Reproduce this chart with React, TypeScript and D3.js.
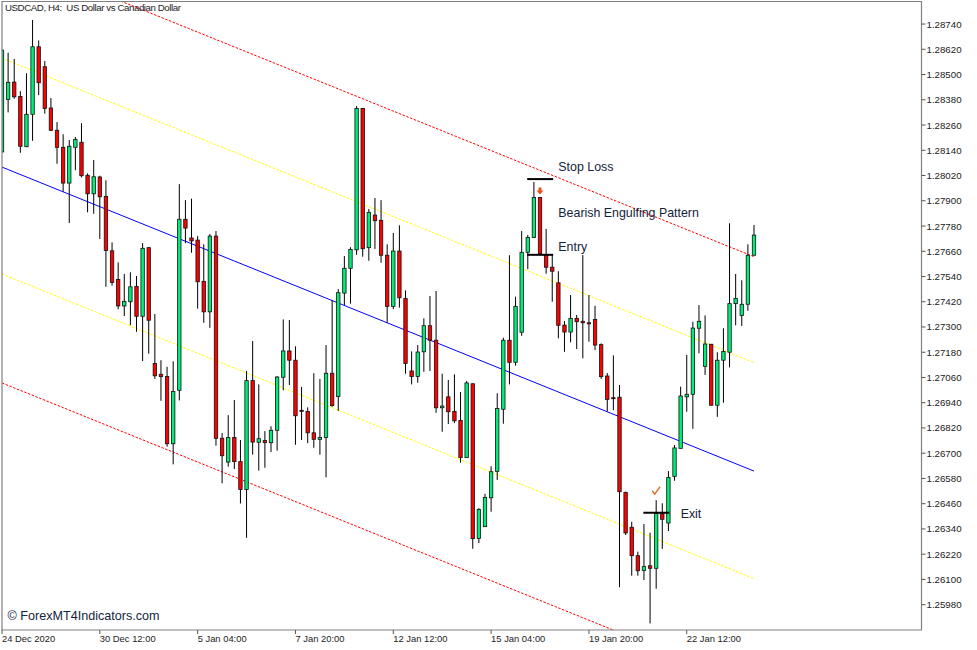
import * as React from "react";
import { scaleLinear, line as d3Line } from "d3";

// USDCAD H4
const opens = [
  1.28132, 1.28382, 1.28464, 1.28396, 1.28157, 1.28311, 1.28632, 1.28537, 1.28341, 1.28235,
  1.28154, 1.27984, 1.28154, 1.28178, 1.28021, 1.27933, 1.28013, 1.27921, 1.27662, 1.27526,
  1.274, 1.2742, 1.27493, 1.27351, 1.27677, 1.27127, 1.27075, 1.27065, 1.26745, 1.26999,
  1.27812, 1.27723, 1.27713, 1.27517, 1.27372, 1.27732, 1.26771, 1.26658, 1.26775, 1.2666,
  1.26528, 1.27045, 1.26752, 1.26761, 1.2675, 1.26809, 1.27061, 1.27186, 1.27142, 1.26904,
  1.26899, 1.26797, 1.26766, 1.26775, 1.2708, 1.2697, 1.27461, 1.27579, 1.27667, 1.28339,
  1.27677, 1.27832, 1.27807, 1.27641, 1.27398, 1.27661, 1.27436, 1.27091, 1.27065, 1.27182,
  1.27306, 1.27237, 1.26916, 1.26968, 1.26899, 1.26856, 1.26679, 1.2703, 1.26295, 1.26351,
  1.26488, 1.26614, 1.26909, 1.27237, 1.27132, 1.27275, 1.27655, 1.27726, 1.27916, 1.27645,
  1.27584, 1.2751, 1.27309, 1.27276, 1.27341, 1.27327, 1.2732, 1.27336, 1.27216, 1.27067,
  1.26964, 1.26966, 1.26514, 1.26348, 1.26213, 1.26143, 1.26165, 1.26153, 1.26412, 1.26368,
  1.2659, 1.26723, 1.26968, 1.2698, 1.27294, 1.27113, 1.27218, 1.26928, 1.27142, 1.2718,
  1.27411, 1.27355, 1.27408, 1.27641,
];
const highs = [
  1.28616, 1.28604, 1.28574, 1.28421, 1.28506, 1.28759, 1.28662, 1.28564, 1.28388, 1.28274,
  1.28216, 1.28189, 1.28203, 1.28269, 1.2803, 1.28094, 1.28019, 1.27997, 1.27702, 1.27607,
  1.27552, 1.2756, 1.27542, 1.27699, 1.2768, 1.27362, 1.27142, 1.27111, 1.27137, 1.27979,
  1.27903, 1.2791, 1.27732, 1.27693, 1.27742, 1.27756, 1.26796, 1.26881, 1.26953, 1.26763,
  1.27091, 1.27233, 1.27027, 1.26805, 1.26828, 1.27067, 1.27336, 1.27333, 1.27208, 1.27015,
  1.26918, 1.2708, 1.27053, 1.27214, 1.27428, 1.2748, 1.27637, 1.27679, 1.2835, 1.28341,
  1.27861, 1.27913, 1.27903, 1.27693, 1.27747, 1.27783, 1.27474, 1.27184, 1.27214, 1.27341,
  1.27447, 1.27471, 1.27078, 1.27048, 1.27075, 1.26991, 1.27043, 1.27032, 1.26439, 1.26507,
  1.26638, 1.26985, 1.27249, 1.27641, 1.27444, 1.27756, 1.27737, 1.27989, 1.27918, 1.27766,
  1.27645, 1.27565, 1.27328, 1.27452, 1.27357, 1.27642, 1.27452, 1.27401, 1.27222, 1.27081,
  1.27165, 1.27024, 1.26517, 1.26374, 1.26232, 1.26363, 1.26322, 1.26477, 1.26462, 1.26615,
  1.26739, 1.27016, 1.27167, 1.27325, 1.27404, 1.27355, 1.27219, 1.2718, 1.27294, 1.27793,
  1.27552, 1.27522, 1.27693, 1.27785,
];
const lows = [
  1.28132, 1.2832, 1.28385, 1.28128, 1.28155, 1.28185, 1.28402, 1.28314, 1.28231, 1.28076,
  1.27943, 1.27794, 1.28045, 1.28011, 1.27845, 1.27838, 1.27718, 1.27491, 1.27496, 1.27384,
  1.27352, 1.27309, 1.27277, 1.27138, 1.27173, 1.27053, 1.26949, 1.26731, 1.26647, 1.26951,
  1.27698, 1.27653, 1.27387, 1.2732, 1.27296, 1.26736, 1.26557, 1.26636, 1.26625, 1.26461,
  1.26298, 1.26693, 1.26617, 1.26631, 1.26706, 1.26712, 1.26999, 1.27024, 1.2674, 1.26763,
  1.26748, 1.26726, 1.26693, 1.26585, 1.26921, 1.26901, 1.27404, 1.27411, 1.27643, 1.27634,
  1.27615, 1.27671, 1.27605, 1.2732, 1.27385, 1.27392, 1.27078, 1.27027, 1.27035, 1.27087,
  1.27091, 1.26892, 1.26802, 1.26839, 1.26843, 1.26655, 1.26679, 1.26246, 1.26273, 1.26349,
  1.26422, 1.26573, 1.2684, 1.27027, 1.27116, 1.27258, 1.27575, 1.27723, 1.27645, 1.27553,
  1.2742, 1.27246, 1.27182, 1.27227, 1.27195, 1.27151, 1.2723, 1.2719, 1.27053, 1.26899,
  1.26905, 1.26063, 1.26311, 1.26118, 1.26118, 1.26097, 1.25891, 1.26056, 1.26245, 1.2633,
  1.26569, 1.26723, 1.26897, 1.26816, 1.27175, 1.27072, 1.26928, 1.26873, 1.2694, 1.27108,
  1.27308, 1.27305, 1.27377, 1.27641,
];
const closes = [
  1.28616, 1.28463, 1.28394, 1.28159, 1.28311, 1.28632, 1.28461, 1.28339, 1.28235, 1.28154,
  1.27984, 1.28159, 1.28192, 1.28019, 1.27933, 1.28014, 1.27919, 1.27664, 1.27512, 1.274,
  1.27422, 1.27491, 1.27351, 1.27674, 1.27332, 1.27068, 1.27064, 1.26745, 1.26994, 1.27812,
  1.2777, 1.27709, 1.27515, 1.27372, 1.27732, 1.26771, 1.26688, 1.26775, 1.2666, 1.26528,
  1.27045, 1.26753, 1.26769, 1.2675, 1.26809, 1.27062, 1.27186, 1.27142, 1.26878, 1.26899,
  1.26797, 1.26766, 1.26775, 1.2708, 1.26926, 1.27463, 1.27579, 1.27669, 1.28339, 1.27672,
  1.27845, 1.27805, 1.27641, 1.27398, 1.27661, 1.27439, 1.27127, 1.27064, 1.27181, 1.27306,
  1.27237, 1.26916, 1.26924, 1.26897, 1.26854, 1.26679, 1.27034, 1.26294, 1.26433, 1.2649,
  1.26612, 1.26913, 1.27237, 1.27132, 1.27398, 1.27655, 1.27726, 1.27916, 1.27647, 1.27584,
  1.27565, 1.27308, 1.27276, 1.27341, 1.27325, 1.2732, 1.27315, 1.27214, 1.27064, 1.26956,
  1.26959, 1.26517, 1.26321, 1.26213, 1.26141, 1.26161, 1.26153, 1.26414, 1.26386, 1.26585,
  1.26725, 1.26972, 1.2698, 1.27295, 1.27327, 1.27219, 1.26928, 1.27142, 1.27184, 1.27411,
  1.27436, 1.27408, 1.27641, 1.27737,
];

const priceTicks = [
  1.2874, 1.2862, 1.285, 1.2838, 1.2826, 1.2814, 1.2802, 1.279, 1.2778, 1.2766, 1.2754, 1.2742,
  1.273, 1.2718, 1.2706, 1.2694, 1.2682, 1.267, 1.2658, 1.2646, 1.2634, 1.2622, 1.261, 1.2598,
];
const timeTickBars = [0, 16, 32, 48, 64, 80, 96, 112];
const timeTickLabels = [
  "24 Dec 2020",
  "30 Dec 12:00",
  "5 Jan 04:00",
  "7 Jan 20:00",
  "12 Jan 12:00",
  "15 Jan 04:00",
  "19 Jan 20:00",
  "22 Jan 12:00",
];

// channel lines: price at first and last bar
const channelBars = [0, 123];
const midLine = [1.2806, 1.26615];
const upperInner = [1.28578, 1.27131];
const lowerInner = [1.27552, 1.26104];
const upperOuter = [1.29077, 1.27634];
const lowerOuter = [1.27034, 1.25589];

const levelNames = ["Stop Loss", "Entry", "Exit"];
const levelPrices = [1.28003, 1.27643, 1.26417];
const levelBars = [[85.9, 90.15], [85.9, 90.15], [104.9, 109.15]];
const levelLabelPrices = [1.28061, 1.27679, 1.26411];
const levelLabelBars = [91, 91, 111];

const width = 977;
const height = 650;
const plot = { left: 2, right: 921.5, top: 1.5, bottom: 630 };
const font = "'Liberation Sans', Arial, sans-serif";
const green = "#00ee78";
const red = "#ff0000";

const App = () => {
  const x = scaleLinear().domain([0, 123]).range([2, 754]);
  const y = scaleLinear().domain([1.2778, 1.2646]).range([226, 503.7]);
  const line = d3Line<number>()
    .x((d, i) => x(channelBars[i]))
    .y(d => y(d));

  const channels = [
    { values: upperOuter, color: "#ff0000", dash: "2.5 1.5" },
    { values: upperInner, color: "#ffff00", dash: "2.5 1.5" },
    { values: midLine, color: "#0000ff", dash: undefined },
    { values: lowerInner, color: "#ffff00", dash: "2.5 1.5" },
    { values: lowerOuter, color: "#ff0000", dash: "2.5 1.5" },
  ];

  return (
    <svg
      width={width}
      height={height}
      style={{ position: "absolute", left: 0, top: 0, background: "#fff" }}
      fontFamily={font}
    >
      <defs>
        <clipPath id="plotArea">
          <rect x={plot.left} y={plot.top} width={plot.right - plot.left} height={plot.bottom - plot.top} />
        </clipPath>
      </defs>

      <g clipPath="url(#plotArea)">
        {channels.map((c, i) => (
          <path key={i} d={line(c.values) || ""} fill="none" stroke={c.color} strokeWidth={1} strokeDasharray={c.dash} />
        ))}

        {opens.map((o, i) => {
          const up = closes[i] >= o;
          const top = y(Math.max(o, closes[i]));
          const bottom = y(Math.min(o, closes[i]));
          return (
            <g key={i}>
              <line x1={x(i)} x2={x(i)} y1={y(highs[i])} y2={y(lows[i])} stroke="#000" strokeWidth={1} />
              <rect
                x={x(i) - 1.7}
                y={top}
                width={3.4}
                height={Math.max(bottom - top, 0.5)}
                fill={up ? green : red}
                stroke="#111"
                strokeWidth={0.8}
              />
            </g>
          );
        })}
      </g>

      {levelPrices.map((p, i) => (
        <line
          key={i}
          x1={x(levelBars[i][0])}
          x2={x(levelBars[i][1])}
          y1={y(p)}
          y2={y(p)}
          stroke="#000"
          strokeWidth={2}
        />
      ))}
      {levelNames.map((name, i) => (
        <text key={name} x={x(levelLabelBars[i])} y={y(levelLabelPrices[i]) + 4} fontSize={12.4} fill="#14233c">
          {name}
        </text>
      ))}
      <text x={x(91)} y={y(1.27842) + 4} fontSize={12.4} fill="#14233c">
        Bearish Engulfing Pattern
      </text>

      {/* sell arrow over the engulfing bar, tick over the exit */}
      <path
        transform={`translate(${x(88)},${y(1.27946)})`}
        d="M-1.5,-3.5 H1.5 V-0.5 H3.5 L0,3.5 L-3.5,-0.5 H-1.5 Z"
        fill="#e8501f"
      />
      <path
        transform={`translate(${x(107)},${y(1.26522)})`}
        d="M-4,0 L-1.5,3.5 L4,-4"
        fill="none"
        stroke="#e8702f"
        strokeWidth={1.5}
      />

      {/* frame */}
      <path
        d={`M${plot.left},${plot.bottom} V${plot.top} H${plot.right} V${plot.bottom} Z`}
        fill="none"
        stroke="#808080"
        strokeWidth={1.2}
      />

      {priceTicks.map(t => (
        <g key={t} transform={`translate(${plot.right},${y(t)})`}>
          <line x1={0} x2={4} stroke="#555" />
          <text x={5} y={3.5} fontSize={9.7} fill="#222">
            {t.toFixed(5)}
          </text>
        </g>
      ))}
      {timeTickBars.map((b, i) => (
        <g key={b} transform={`translate(${x(b)},${plot.bottom})`}>
          <line y1={0} y2={4} stroke="#555" />
          <text x={0} y={12} fontSize={9.4} fill="#222">
            {timeTickLabels[i]}
          </text>
        </g>
      ))}

      <text x={5} y={11} fontSize={9.7} fill="#222" textLength={176} lengthAdjust="spacing" style={{ whiteSpace: "pre" }}>
        {"USDCAD, H4:  US Dollar vs Canadian Dollar"}
      </text>
      <text x={7.5} y={620} fontSize={12.6} fill="#14233c">
        © ForexMT4Indicators.com
      </text>
    </svg>
  );
};

export default App;
